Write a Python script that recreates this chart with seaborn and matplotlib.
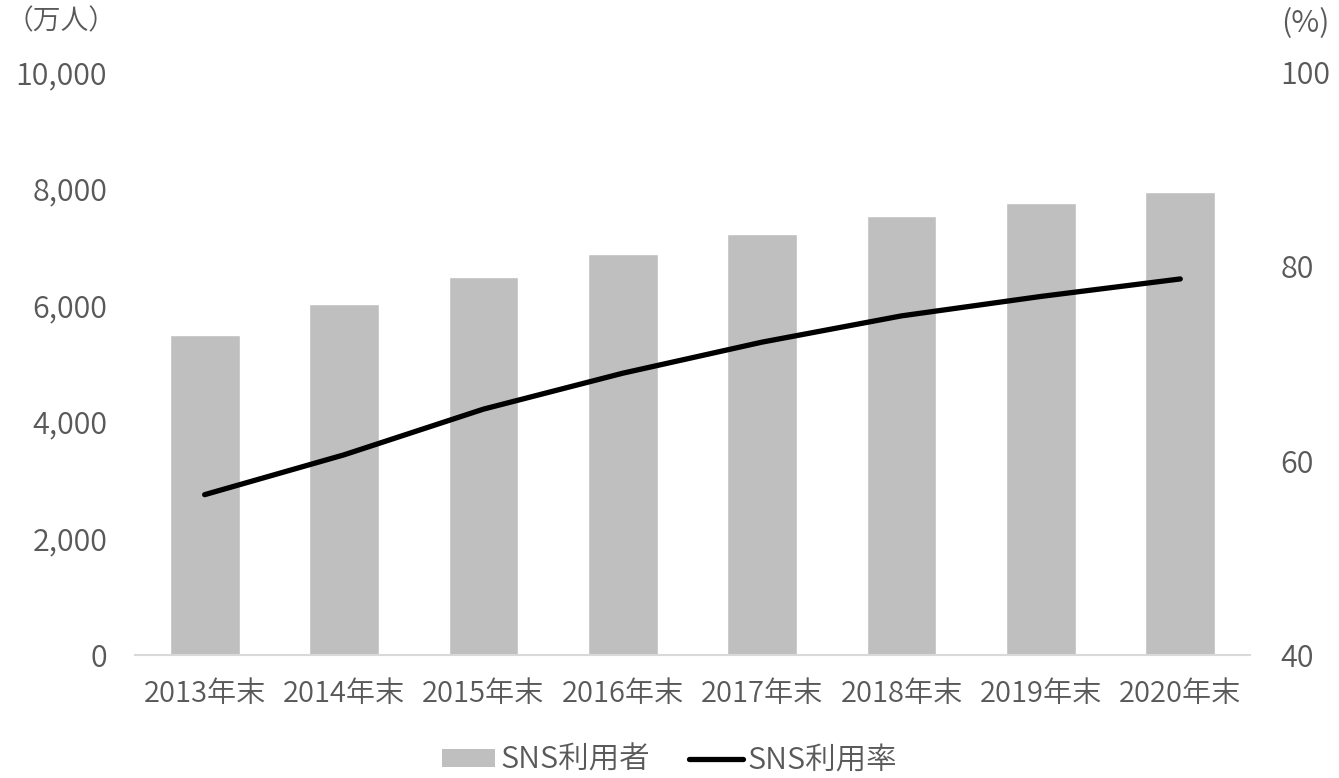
import matplotlib
matplotlib.use("Agg")
import matplotlib.pyplot as plt
from matplotlib.patches import Patch
from matplotlib.lines import Line2D
from matplotlib.ticker import FuncFormatter
import seaborn as sns
import pandas as pd

# SNS users (10k people) and usage rate (%) at year end
years = ["2013年末", "2014年末", "2015年末", "2016年末",
         "2017年末", "2018年末", "2019年末", "2020年末"]
users = [5487, 6023, 6483, 6872, 7216, 7523, 7750, 7937]
rate = [56.5, 60.6, 65.3, 69.0, 72.2, 74.9, 76.9, 78.7]

sns.set_theme(style="white")
plt.rcParams["font.family"] = ["Noto Sans CJK JP", "DejaVu Sans"]
plt.rcParams["font.weight"] = 350

TEXT = "#595959"
BAR = "#BFBFBF"

df = pd.DataFrame({"year": years, "users": users, "rate": rate})

fig = plt.figure(figsize=(13.39, 7.78), dpi=100)
ax = fig.add_axes([0.1008, 0.1581, 0.8327, 0.7494])

sns.barplot(data=df, x="year", y="users", color=BAR, width=0.5,
            saturation=1, ax=ax, zorder=2)
ax.set_xlim(-0.5, 7.5)
ax.set_ylim(0, 10000)
ax.set_yticks(range(0, 10001, 2000))
ax.yaxis.set_major_formatter(FuncFormatter(lambda v, p: f"{int(v):,}"))
ax.set_xlabel("")
ax.set_ylabel("")

ax2 = ax.twinx()
sns.lineplot(data=df, x="year", y="rate", color="black", linewidth=3.8,
             sort=False, ax=ax2, zorder=3)
for ln in ax2.lines:
    ln.set_solid_capstyle("round")
    ln.set_solid_joinstyle("round")
ax2.set_ylim(40, 100)
ax2.set_yticks([40, 60, 80, 100])
ax2.set_ylabel("")
ax2.set_xlabel("")

for a in (ax, ax2):
    for s in a.spines.values():
        s.set_visible(False)
    a.grid(False)
ax.spines["bottom"].set_visible(True)
ax.spines["bottom"].set_color("#D9D9D9")
ax.spines["bottom"].set_linewidth(1.5)

ax.tick_params(axis="y", length=0, pad=20, labelsize=22, labelcolor=TEXT)
ax.tick_params(axis="x", length=0, pad=17, labelsize=21, labelcolor=TEXT)
ax2.tick_params(axis="y", length=0, pad=22, labelsize=22, labelcolor=TEXT)

fig.text(0.004, 0.972, "（万人）", fontsize=20, color=TEXT,
         ha="left", va="center")
fig.text(0.957, 0.970, "(%)", fontsize=22, color=TEXT,
         ha="left", va="center")

handles = [Patch(facecolor=BAR, edgecolor="none"),
           Line2D([0], [0], color="black", linewidth=3.8,
                  solid_capstyle="round")]
fig.legend(handles, ["SNS利用者", "SNS利用率"], loc="center",
           bbox_to_anchor=(0.5, 0.023), ncol=2, frameon=False,
           fontsize=22, labelcolor=TEXT, handlelength=1.75,
           handleheight=0.55, handletextpad=0.15, columnspacing=1.3)

fig.savefig("out.png", dpi=100)
